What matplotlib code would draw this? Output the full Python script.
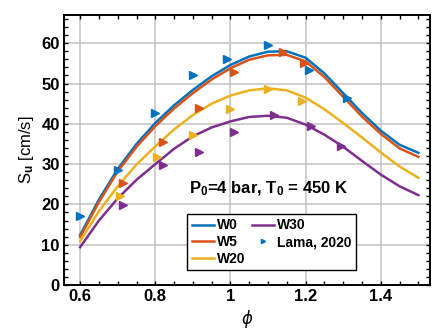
import matplotlib
matplotlib.use('Agg')
import matplotlib.pyplot as plt

# equivalence ratio grid of the model curves
phi = [0.60, 0.65, 0.70, 0.75, 0.80, 0.85, 0.90, 0.95, 1.00, 1.05,
       1.10, 1.15, 1.20, 1.25, 1.30, 1.35, 1.40, 1.45, 1.50]

# laminar flame speed [cm/s]
su_w0 = [12.4, 21.2, 28.8, 35.0, 40.2, 44.6, 48.4, 51.8, 54.6, 56.7,
         57.9, 58.0, 56.4, 52.5, 47.6, 42.7, 38.3, 34.8, 32.8]
su_w5 = [11.9, 20.6, 28.2, 34.3, 39.4, 43.8, 47.6, 51.0, 53.8, 55.9,
         57.0, 57.1, 55.5, 51.6, 46.7, 41.8, 37.5, 33.9, 31.8]
su_w20 = [10.9, 18.3, 24.5, 29.9, 34.4, 38.6, 42.2, 45.0, 47.0, 48.3,
          48.8, 48.3, 46.5, 43.6, 40.2, 36.6, 32.9, 29.4, 26.6]
su_w30 = [9.4, 16.0, 21.5, 26.1, 30.0, 33.8, 36.9, 39.1, 40.6, 41.7,
          42.0, 41.5, 39.8, 37.3, 34.3, 30.8, 27.4, 24.5, 22.3]

# Lama, 2020 measurements
lama_phi_w0 = [0.60, 0.70, 0.80, 0.90, 0.99, 1.10, 1.21, 1.31]
lama_su_w0 = [17.1, 28.6, 42.8, 52.0, 56.1, 59.6, 53.4, 46.5]
lama_phi_w5 = [0.715, 0.82, 0.915, 1.01, 1.14, 1.195]
lama_su_w5 = [25.2, 35.6, 43.9, 52.8, 57.7, 55.0]
lama_phi_w20 = [0.705, 0.805, 0.90, 1.00, 1.10, 1.19]
lama_su_w20 = [22.2, 31.7, 37.1, 43.7, 48.6, 45.7]
lama_phi_w30 = [0.715, 0.82, 0.915, 1.01, 1.115, 1.215, 1.295]
lama_su_w30 = [19.9, 29.9, 32.9, 38.0, 42.2, 39.4, 34.6]

colors = ['#0072BD', '#D95319', '#EDB120', '#7E2F8E']
labels = ['W0', 'W5', 'W20', 'W30']

plt.rcParams['font.family'] = ['Liberation Sans', 'DejaVu Sans']
plt.rcParams['font.weight'] = 'bold'
plt.rcParams['mathtext.fontset'] = 'custom'
plt.rcParams['mathtext.rm'] = 'Liberation Sans:bold'
plt.rcParams['mathtext.bf'] = 'Liberation Sans:bold'
plt.rcParams['mathtext.it'] = 'Liberation Sans:bold:italic'

fig = plt.figure(figsize=(4.32, 3.3), dpi=100)
ax = fig.add_axes([64 / 432, 45 / 330, 366 / 432, 270 / 330])

handles = []
for su, c, lab in zip([su_w0, su_w5, su_w20, su_w30], colors, labels):
    h, = ax.plot(phi, su, color=c, lw=1.8, label=lab, zorder=3,
                 solid_joinstyle='round')
    handles.append(h)

lama = [(lama_phi_w0, lama_su_w0), (lama_phi_w5, lama_su_w5),
        (lama_phi_w20, lama_su_w20), (lama_phi_w30, lama_su_w30)]
for i, (x, y) in enumerate(lama):
    h, = ax.plot(x, y, ls='none', marker='>', ms=5.5, color=colors[i],
                 label='Lama, 2020' if i == 0 else None, zorder=4)
    if i == 0:
        lama_handle = h

ax.set_xlim(0.557, 1.531)
ax.set_ylim(0, 67)
ax.set_xticks([0.6, 0.8, 1.0, 1.2, 1.4])
ax.set_xticklabels(['0.6', '0.8', '1', '1.2', '1.4'])
ax.set_yticks([0, 10, 20, 30, 40, 50, 60])
ax.set_xticks([0.6 + 0.05 * k for k in range(19)], minor=True)
ax.set_yticks(list(range(0, 67, 2)), minor=True)

ax.grid(True, which='major', color='#c2c2c2', lw=1.1, zorder=0)
ax.set_axisbelow(True)
ax.tick_params(which='both', direction='in', top=True, right=True,
               length=2.8, width=1.0, labelsize=12, pad=3)
for s in ax.spines.values():
    s.set_linewidth(1.4)

ax.set_ylabel('S$_\\mathrm{u}$ [cm/s]', fontsize=12, labelpad=4)
ax.set_xlabel('ϕ', fontsize=12, fontstyle='italic', family='DejaVu Sans',
              labelpad=4)

ax.text(0.56, 0.355, 'P$_\\mathrm{0}$=4 bar, T$_\\mathrm{0}$ = 450 K',
        transform=ax.transAxes, ha='center', va='center', fontsize=12)

leg = ax.legend(handles + [lama_handle],
                labels + ['Lama, 2020'], ncol=2, loc='upper left',
                bbox_to_anchor=(0.337, 0.262), borderaxespad=0,
                fontsize=10, handlelength=1.6, handletextpad=0.2,
                columnspacing=0.5, labelspacing=0.2, borderpad=0.3,
                markerscale=0.55, fancybox=False, framealpha=1)
leg.get_frame().set_edgecolor('black')
leg.get_frame().set_linewidth(1.0)

fig.savefig('out.png', dpi=100)
